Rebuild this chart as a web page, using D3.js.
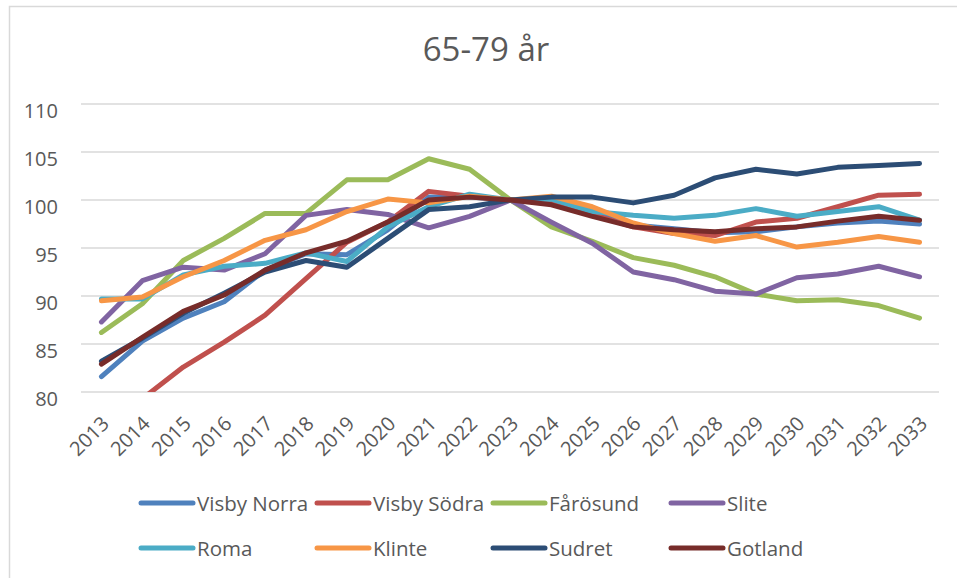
<html>
  <head>
    <meta charset="utf-8">
    <script src="https://d3js.org/d3.v7.min.js" charset="utf-8"></script>
    <style>
      body { margin: 0; background: #fff; }
      text { font-family: "Open Sans", sans-serif; fill: #595959; }
    </style>
    <script type="text/javascript">
      // data
      var years = ["2013","2014","2015","2016","2017","2018","2019","2020","2021","2022","2023",
                   "2024","2025","2026","2027","2028","2029","2030","2031","2032","2033"]
      var yTicks = [80, 85, 90, 95, 100, 105, 110]
      var seriesNames = ["Visby Norra", "Visby Södra", "Fårösund", "Slite", "Roma", "Klinte", "Sudret", "Gotland"]

      var visbyNorra = [81.6, 85.3, 87.7, 89.4, 92.7, 94.4, 94.3, 96.9, 100.3, 100.3, 100, 100.1, 99.0, 97.4, 97.0, 96.6, 96.7, 97.2, 97.6, 97.8, 97.5]
      var visbySodra = [76.5, 79.3, 82.6, 85.2, 88.0, 91.8, 95.6, 97.7, 100.9, 100.4, 100, 99.7, 98.5, 97.2, 96.5, 96.3, 97.7, 98.1, 99.3, 100.5, 100.6]
      var farosund   = [86.2, 89.2, 93.7, 96.0, 98.6, 98.6, 102.1, 102.1, 104.3, 103.2, 100, 97.2, 95.7, 94.0, 93.2, 92.0, 90.2, 89.5, 89.6, 89.0, 87.7]
      var slite      = [87.3, 91.6, 93.0, 92.7, 94.4, 98.4, 99.0, 98.5, 97.1, 98.3, 100, 97.7, 95.5, 92.5, 91.7, 90.5, 90.2, 91.9, 92.3, 93.1, 92.0]
      var roma       = [89.7, 89.7, 92.2, 93.1, 93.4, 94.5, 93.6, 97.2, 99.3, 100.6, 100, 100.1, 98.8, 98.4, 98.1, 98.4, 99.1, 98.3, 98.8, 99.3, 97.9]
      var klinte     = [89.5, 89.9, 92.0, 93.7, 95.8, 96.9, 98.8, 100.1, 99.7, 100.4, 100, 100.4, 99.3, 97.6, 96.5, 95.7, 96.3, 95.1, 95.6, 96.2, 95.6]
      var sudret     = [83.2, 85.6, 88.2, 90.3, 92.5, 93.7, 93.0, 96.0, 99.0, 99.3, 100, 100.3, 100.3, 99.7, 100.5, 102.3, 103.2, 102.7, 103.4, 103.6, 103.8]
      var gotland    = [82.9, 85.7, 88.4, 90.1, 92.7, 94.5, 95.7, 97.7, 100.0, 100.3, 100, 99.5, 98.3, 97.2, 96.9, 96.7, 97.0, 97.2, 97.8, 98.3, 97.9]

      var colors = ["#4F81BD", "#C0504D", "#9BBB59", "#8064A2", "#4BACC6", "#F79646", "#2C4D75", "#772C2A"]

      window.onload = function(){
        var width = 957
        var height = 578

        var plot = { left: 81, right: 940, top: 104, bottom: 392 } // plot area

        var allValues = [visbyNorra, visbySodra, farosund, slite, roma, klinte, sudret, gotland]
        var series = seriesNames.map(function(name, i){
          return { name: name, color: colors[i], values: allValues[i] }
        })

        var svg = d3.select("body")
          .append("svg")
          .attr("width", width)
          .attr("height", height)

        // chart border (left + top visible)
        svg.append("rect")
          .attr("x", 9.5)
          .attr("y", 6.5)
          .attr("width", 960)
          .attr("height", 600)
          .attr("fill", "none")
          .attr("stroke", "#d9d9d9")
          .attr("stroke-width", 1.5)

        var x = d3.scaleBand()
          .domain(years)
          .range([plot.left, plot.right])
          .padding(0)

        var y = d3.scaleLinear()
          .domain([80, 110])
          .range([plot.bottom, plot.top])

        // title
        svg.append("text")
          .attr("x", 486)
          .attr("y", 61)
          .attr("text-anchor", "middle")
          .attr("font-size", "33px")
          .text("65-79 år")

        // gridlines
        svg.append("g")
          .selectAll("line")
          .data(yTicks)
          .enter()
          .append("line")
          .attr("x1", plot.left)
          .attr("x2", plot.right - 1)
          .attr("y1", function(d){ return y(d) })
          .attr("y2", function(d){ return y(d) })
          .attr("stroke", "#d9d9d9")
          .attr("stroke-width", 1.5)

        // y axis labels
        var yAxis = d3.axisLeft(y).tickValues(yTicks).tickSize(0).tickPadding(0)
        var gy = svg.append("g")
          .attr("transform", "translate(58,0)")
          .call(yAxis)
        gy.select(".domain").remove()
        gy.selectAll("text")
          .attr("font-family", null)
          .attr("fill", "#595959")
          .attr("font-size", "20px")
          .attr("dy", "13px")
          .attr("y", 0)

        // x axis labels
        var xAxis = d3.axisBottom(x).tickSize(0)
        var gx = svg.append("g")
          .attr("transform", "translate(0," + plot.bottom + ")")
          .call(xAxis)
        gx.select(".domain").remove()
        gx.selectAll("text")
          .attr("font-family", null)
          .attr("fill", "#595959")
          .attr("font-size", "20px")
          .attr("text-anchor", "end")
          .attr("y", 0)
          .attr("dy", 0)
          .attr("transform", "translate(9,33) rotate(-45)")

        // lines
        svg.append("clipPath")
          .attr("id", "plotClip")
          .append("rect")
          .attr("x", plot.left - 10)
          .attr("y", plot.top - 10)
          .attr("width", plot.right - plot.left + 20)
          .attr("height", plot.bottom - plot.top + 10)

        var line = d3.line()
          .x(function(d, i){ return x(years[i]) + x.bandwidth() / 2 })
          .y(function(d){ return y(d) })

        svg.append("g")
          .attr("clip-path", "url(#plotClip)")
          .selectAll("path")
          .data(series)
          .enter()
          .append("path")
          .attr("d", function(d){ return line(d.values) })
          .attr("fill", "none")
          .attr("stroke", function(d){ return d.color })
          .attr("stroke-width", 5)
          .attr("stroke-linejoin", "round")
          .attr("stroke-linecap", "round")

        // legend, 2 rows x 4 columns
        var legendCols = [141, 317, 493, 671]
        var legendRows = [503, 548]

        var legend = svg.append("g")
          .selectAll("g")
          .data(series)
          .enter()
          .append("g")
          .attr("transform", function(d, i){
            return "translate(" + legendCols[i % 4] + "," + legendRows[Math.floor(i / 4)] + ")"
          })

        legend.append("line")
          .attr("x1", 0)
          .attr("x2", 52)
          .attr("stroke", function(d){ return d.color })
          .attr("stroke-width", 5)
          .attr("stroke-linecap", "round")

        legend.append("text")
          .attr("x", 56)
          .attr("y", 8)
          .attr("font-size", "20.5px")
          .text(function(d){ return d.name })
      }
    </script>
  </head>
  <body>
  </body>
</html>
